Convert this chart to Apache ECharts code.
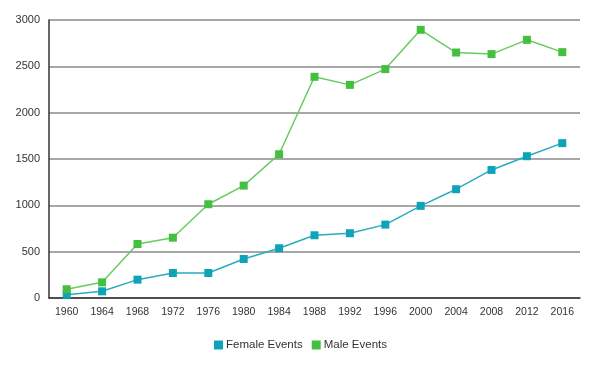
<!DOCTYPE html>
<html><head><meta charset="utf-8">
<script src="https://cdn.jsdelivr.net/npm/echarts@6/dist/echarts.min.js"></script>
<style>html,body{margin:0;padding:0;background:#fff}#c{width:601px;height:365px}</style>
</head><body><div id="c"></div>
<script>
const years = ['1960','1964','1968','1972','1976','1980','1984','1988','1992','1996','2000','2004','2008','2012','2016'];
const femaleEvents = [35, 72, 198, 270, 270, 421, 537, 677, 699, 792, 994, 1174, 1382, 1530, 1671];
const maleEvents = [94, 169, 583, 651, 1012, 1213, 1551, 2387, 2300, 2470, 2894, 2649, 2632, 2786, 2653];
const yTicks = [0, 500, 1000, 1500, 2000, 2500, 3000];

const font = '"Liberation Sans", Arial, sans-serif';
const chart = echarts.init(document.getElementById('c'));
chart.setOption({
  animation: false,
  grid: {left: 49, right: 21, top: 20, bottom: 67},
  legend: {
    bottom: 9, left: 'center', itemWidth: 9, itemHeight: 9, itemGap: 9,
    icon: 'rect',
    textStyle: {fontFamily: font, fontSize: 11.5, color: '#333', padding: [0, 0, 0, -2]},
    data: ['Female Events', 'Male Events']
  },
  xAxis: {
    type: 'category', data: years, boundaryGap: true,
    axisLine: {lineStyle: {color: '#333', width: 1.5}},
    axisTick: {inside: true, length: 6, lineStyle: {color: '#333', width: 1.2}},
    axisLabel: {fontFamily: font, fontSize: 10.5, color: '#333', margin: 9}
  },
  yAxis: {
    type: 'value', min: yTicks[0], max: yTicks[yTicks.length-1], interval: 500,
    axisLine: {show: true, lineStyle: {color: '#333', width: 1.5}},
    axisTick: {show: false},
    axisLabel: {fontFamily: font, fontSize: 11, color: '#333', margin: 9, formatter: v => String(v)},
    splitLine: {lineStyle: {color: '#8a8a8a', width: 1.5}}
  },
  series: [
    {name: 'Female Events', type: 'line', data: femaleEvents, symbol: 'rect', symbolSize: 8,
     color: '#0fa3b9', lineStyle: {width: 1.5, color: '#2aabc0'}, itemStyle: {color: '#0fa3b9'}},
    {name: 'Male Events', type: 'line', data: maleEvents, symbol: 'rect', symbolSize: 8,
     color: '#44bf3f', lineStyle: {width: 1.5, color: '#66cc5e'}, itemStyle: {color: '#44bf3f'}}
  ]
});
</script></body></html>
